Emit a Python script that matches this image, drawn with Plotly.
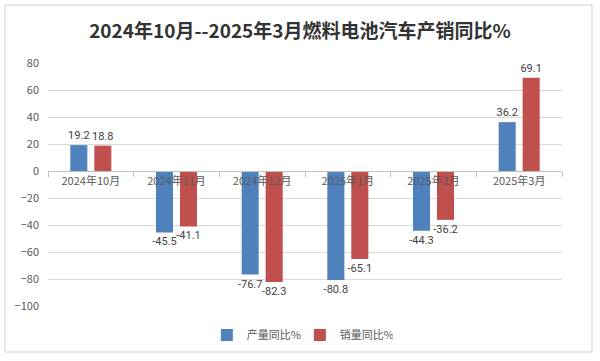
import plotly.graph_objects as go

categories = ["2024年10月", "2024年11月", "2024年12月", "2025年1月", "2025年2月", "2025年3月"]
production_yoy = [19.2, -45.5, -76.7, -80.8, -44.3, 36.2]
sales_yoy = [18.8, -41.1, -82.3, -65.1, -36.2, 69.1]
series_names = ["产量同比%", "销量同比%"]
y_ticks = [80, 60, 40, 20, 0, -20, -40, -60, -80, -100]

FONT = "Noto Sans CJK SC, Microsoft YaHei, sans-serif"
GRAY = "#595959"

fig = go.Figure()
for name, vals, color in [(series_names[0], production_yoy, "#4F81BD"),
                          (series_names[1], sales_yoy, "#C0504D")]:
    fig.add_trace(go.Bar(
        x=categories, y=vals, name=name,
        marker=dict(color=color, line=dict(color=color, width=0)),
        text=[f"{v:.1f}" for v in vals], textposition="outside",
        constraintext="none",
        textfont=dict(size=11, color="#404040", family="Liberation Sans Narrow, Roboto, sans-serif"),
        cliponaxis=False,
    ))

L, R, T, B = 48, 38, 63, 55
W, H = 600, 361
pw, ph = W - L - R, H - T - B

def px(x):
    return (x - L) / pw

def py(y):
    return (H - B - y) / ph

fig.update_layout(
    width=W, height=H,
    margin=dict(l=L, r=R, t=T, b=B, autoexpand=False),
    paper_bgcolor="white", plot_bgcolor="white",
    barmode="group", bargap=0.44, bargroupgap=0.29,
    font=dict(family=FONT, color=GRAY, size=11),
    title=dict(text="<b>2024年10月--2025年3月燃料电池汽车产销同比%</b>",
               x=0.5, xanchor="center", y=1 - 31 / H, yanchor="middle",
               font=dict(size=19, color="#333333", family=FONT)),
    showlegend=True,
    legend=dict(orientation="h", x=0.49, xanchor="center", y=py(335), yanchor="middle",
                font=dict(size=11, color=GRAY), itemwidth=30, traceorder="normal",
                entrywidth=48, entrywidthmode="pixels"),
    xaxis=dict(anchor="free", position=100 / 180, showgrid=False, showline=True,
               linecolor="#BFBFBF", linewidth=1, ticks="outside", tickson="boundaries",
               ticklen=5, tickcolor="#BFBFBF", tickfont=dict(size=11, color=GRAY),
               zeroline=False),
    yaxis=dict(range=[-100, 80], tickvals=y_ticks, showgrid=True, gridcolor="#D9D9D9",
               gridwidth=1, zeroline=False, showline=False,
               tickfont=dict(size=11, color=GRAY), ticks="", ticklabelstandoff=8),
    shapes=[dict(type="rect", xref="paper", yref="paper",
                 x0=px(5), x1=px(592), y0=py(352), y1=py(5),
                 line=dict(color="#D0D0D0", width=1), layer="below")],
)

fig.write_html("out.html", config={"displayModeBar": False},
               post_script="document.body.style.margin='0';")
